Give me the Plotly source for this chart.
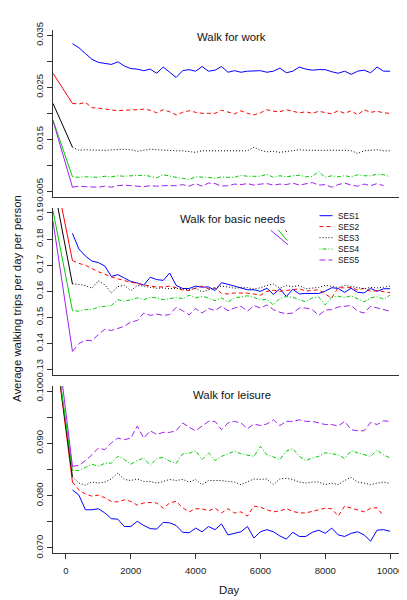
import plotly.graph_objects as go

# ---------------- data ----------------
days = list(range(200, 10001, 200))   # sampling days (50 points)
start_day = -400                      # start of the initial segment

series = ["SES1", "SES2", "SES3", "SES4", "SES5"]
colors = ["#0000ff", "#ff0000", "#000000", "#00cc00", "#a020f0"]
dashes = ["solid", "4px,3px", "1px,2px", "1px,2px,4px,2px", "6px,3px"]

work_ses1 = [0.0334, 0.0326, 0.0315, 0.0304, 0.0298, 0.0296, 0.0294, 0.0299, 0.0291, 0.0286,
             0.0285, 0.0282, 0.0285, 0.0277, 0.0289, 0.0279, 0.0269, 0.0282, 0.0284, 0.0281,
             0.0290, 0.0281, 0.0283, 0.0290, 0.0279, 0.0282, 0.0279, 0.0281, 0.0282, 0.0282,
             0.0279, 0.0281, 0.0287, 0.0278, 0.0281, 0.0289, 0.0285, 0.0283, 0.0284, 0.0284,
             0.0280, 0.0277, 0.0281, 0.0275, 0.0281, 0.0283, 0.0278, 0.0289, 0.0281, 0.0281]
work_ses2 = [0.0219, 0.0218, 0.0221, 0.0211, 0.0210, 0.0208, 0.0206, 0.0205, 0.0206, 0.0206,
             0.0207, 0.0208, 0.0206, 0.0201, 0.0207, 0.0203, 0.0197, 0.0202, 0.0205, 0.0202,
             0.0200, 0.0200, 0.0200, 0.0206, 0.0203, 0.0199, 0.0205, 0.0200, 0.0197, 0.0201,
             0.0207, 0.0204, 0.0203, 0.0207, 0.0204, 0.0201, 0.0203, 0.0200, 0.0204, 0.0202,
             0.0199, 0.0205, 0.0200, 0.0205, 0.0197, 0.0207, 0.0202, 0.0204, 0.0201, 0.0200]
work_ses3 = [0.0135, 0.0129, 0.0130, 0.0129, 0.0129, 0.0129, 0.0130, 0.0131, 0.0131, 0.0130,
             0.0127, 0.0129, 0.0131, 0.0130, 0.0129, 0.0128, 0.0128, 0.0128, 0.0127, 0.0125,
             0.0128, 0.0128, 0.0128, 0.0128, 0.0127, 0.0128, 0.0127, 0.0128, 0.0135, 0.0129,
             0.0126, 0.0127, 0.0125, 0.0127, 0.0128, 0.0130, 0.0129, 0.0129, 0.0129, 0.0130,
             0.0129, 0.0129, 0.0129, 0.0128, 0.0123, 0.0128, 0.0129, 0.0130, 0.0128, 0.0128]
work_ses4 = [0.0078, 0.0077, 0.0078, 0.0078, 0.0077, 0.0079, 0.0078, 0.0080, 0.0079, 0.0080,
             0.0080, 0.0081, 0.0079, 0.0076, 0.0082, 0.0079, 0.0077, 0.0075, 0.0073, 0.0078,
             0.0078, 0.0077, 0.0075, 0.0078, 0.0077, 0.0077, 0.0081, 0.0079, 0.0079, 0.0079,
             0.0083, 0.0077, 0.0080, 0.0078, 0.0080, 0.0081, 0.0078, 0.0079, 0.0088, 0.0077,
             0.0080, 0.0078, 0.0080, 0.0078, 0.0082, 0.0080, 0.0080, 0.0083, 0.0082, 0.0078]
work_ses5 = [0.0058, 0.0060, 0.0059, 0.0059, 0.0058, 0.0060, 0.0058, 0.0061, 0.0062, 0.0061,
             0.0060, 0.0059, 0.0061, 0.0060, 0.0061, 0.0061, 0.0061, 0.0063, 0.0060, 0.0065,
             0.0060, 0.0066, 0.0065, 0.0060, 0.0061, 0.0064, 0.0063, 0.0065, 0.0062, 0.0064,
             0.0065, 0.0062, 0.0064, 0.0063, 0.0066, 0.0062, 0.0064, 0.0067, 0.0062, 0.0063,
             0.0058, 0.0063, 0.0066, 0.0062, 0.0060, 0.0064, 0.0061, 0.0065, 0.0061, None]
work_start = [None, 0.0277, 0.0219, 0.0187, 0.0186]

basic_ses1 = [0.1822, 0.1762, 0.1735, 0.1716, 0.1710, 0.1697, 0.1657, 0.1664, 0.1651, 0.1638,
              0.1632, 0.1624, 0.1654, 0.1645, 0.1642, 0.1670, 0.1623, 0.1611, 0.1611, 0.1620,
              0.1616, 0.1617, 0.1603, 0.1633, 0.1627, 0.1620, 0.1612, 0.1606, 0.1606, 0.1600,
              0.1612, 0.1588, 0.1610, 0.1580, 0.1608, 0.1590, 0.1592, 0.1592, 0.1592, 0.1601,
              0.1614, 0.1611, 0.1596, 0.1612, 0.1596, 0.1594, 0.1611, 0.1600, 0.1610, 0.1610]
basic_ses2 = [0.1718, 0.1707, 0.1700, 0.1686, 0.1675, 0.1666, 0.1655, 0.1648, 0.1640, 0.1635,
              0.1630, 0.1624, 0.1620, 0.1617, 0.1617, 0.1620, 0.1614, 0.1605, 0.1603, 0.1612,
              0.1620, 0.1610, 0.1613, 0.1592, 0.1590, 0.1594, 0.1594, 0.1593, 0.1590, 0.1585,
              0.1600, 0.1604, 0.1600, 0.1603, 0.1606, 0.1610, 0.1601, 0.1603, 0.1606, 0.1590,
              0.1574, 0.1615, 0.1613, 0.1615, 0.1605, 0.1612, 0.1600, 0.1603, 0.1598, 0.1595]
basic_ses3 = [0.1628, 0.1627, 0.1622, 0.1612, 0.1640, 0.1625, 0.1594, 0.1618, 0.1623, 0.1603,
              0.1622, 0.1621, 0.1615, 0.1612, 0.1613, 0.1610, 0.1612, 0.1610, 0.1606, 0.1612,
              0.1598, 0.1606, 0.1614, 0.1620, 0.1617, 0.1612, 0.1614, 0.1614, 0.1609, 0.1614,
              0.1623, 0.1628, 0.1612, 0.1622, 0.1618, 0.1622, 0.1610, 0.1613, 0.1615, 0.1623,
              0.1618, 0.1615, 0.1623, 0.1618, 0.1614, 0.1610, 0.1615, 0.1613, 0.1616, 0.1620]
basic_ses4 = [0.1526, 0.1524, 0.1530, 0.1530, 0.1540, 0.1543, 0.1546, 0.1568, 0.1562, 0.1568,
              0.1575, 0.1568, 0.1577, 0.1575, 0.1568, 0.1572, 0.1577, 0.1572, 0.1585, 0.1575,
              0.1581, 0.1575, 0.1564, 0.1575, 0.1559, 0.1575, 0.1580, 0.1583, 0.1577, 0.1566,
              0.1570, 0.1548, 0.1573, 0.1580, 0.1577, 0.1568, 0.1560, 0.1575, 0.1578, 0.1548,
              0.1578, 0.1581, 0.1576, 0.1583, 0.1572, 0.1560, 0.1575, 0.1580, 0.1570, 0.1585]
basic_ses5 = [0.1370, 0.1400, 0.1413, 0.1411, 0.1435, 0.1455, 0.1450, 0.1458, 0.1466, 0.1483,
              0.1488, 0.1517, 0.1508, 0.1513, 0.1508, 0.1511, 0.1539, 0.1526, 0.1510, 0.1534,
              0.1517, 0.1535, 0.1526, 0.1543, 0.1526, 0.1536, 0.1543, 0.1524, 0.1545, 0.1536,
              0.1548, 0.1530, 0.1520, 0.1514, 0.1517, 0.1536, 0.1536, 0.1530, 0.1508, 0.1528,
              0.1530, 0.1540, 0.1543, 0.1546, 0.1524, 0.1517, 0.1543, 0.1536, 0.1530, 0.1524]
basic_start = [None, 0.209, 0.202, 0.1909, 0.1869]

leisure_ses1 = [0.0811, 0.0801, 0.0773, 0.0773, 0.0775, 0.0767, 0.0756, 0.0755, 0.0741, 0.0741,
                0.0751, 0.0743, 0.0737, 0.0736, 0.0749, 0.0748, 0.0743, 0.0730, 0.0729, 0.0738,
                0.0731, 0.0741, 0.0735, 0.0746, 0.0725, 0.0728, 0.0731, 0.0741, 0.0719, 0.0731,
                0.0735, 0.0731, 0.0723, 0.0717, 0.0730, 0.0722, 0.0722, 0.0730, 0.0734, 0.0728,
                0.0738, 0.0725, 0.0722, 0.0728, 0.0731, 0.0725, 0.0713, 0.0734, 0.0735, 0.0732]
leisure_ses2 = [0.0826, 0.0811, 0.0803, 0.0799, 0.0801, 0.0796, 0.0789, 0.0788, 0.0792, 0.0789,
                0.0782, 0.0786, 0.0787, 0.0786, 0.0776, 0.0786, 0.0789, 0.0777, 0.0769, 0.0775,
                0.0775, 0.0771, 0.0776, 0.0767, 0.0775, 0.0767, 0.0769, 0.0761, 0.0780, 0.0778,
                0.0773, 0.0769, 0.0771, 0.0775, 0.0770, 0.0767, 0.0767, 0.0770, 0.0773, 0.0776,
                0.0775, 0.0761, 0.0780, 0.0776, 0.0773, 0.0769, 0.0776, 0.0777, 0.0761, None]
leisure_ses3 = [0.0836, 0.0824, 0.0820, 0.0826, 0.0824, 0.0826, 0.0832, 0.0843, 0.0831, 0.0829,
                0.0832, 0.0827, 0.0827, 0.0824, 0.0827, 0.0831, 0.0829, 0.0831, 0.0826, 0.0831,
                0.0821, 0.0829, 0.0829, 0.0829, 0.0827, 0.0826, 0.0821, 0.0826, 0.0832, 0.0831,
                0.0832, 0.0821, 0.0832, 0.0833, 0.0831, 0.0826, 0.0824, 0.0826, 0.0826, 0.0821,
                0.0824, 0.0821, 0.0829, 0.0835, 0.0826, 0.0824, 0.0821, 0.0824, 0.0826, 0.0823]
leisure_ses4 = [0.0848, 0.0848, 0.0854, 0.0860, 0.0856, 0.0862, 0.0862, 0.0875, 0.0869, 0.0860,
                0.0867, 0.0872, 0.0858, 0.0871, 0.0873, 0.0866, 0.0862, 0.0880, 0.0881, 0.0886,
                0.0869, 0.0882, 0.0867, 0.0875, 0.0880, 0.0885, 0.0880, 0.0878, 0.0875, 0.0894,
                0.0878, 0.0874, 0.0869, 0.0885, 0.0890, 0.0875, 0.0867, 0.0872, 0.0875, 0.0882,
                0.0880, 0.0878, 0.0871, 0.0886, 0.0882, 0.0878, 0.0875, 0.0887, 0.0878, 0.0872]
leisure_ses5 = [0.0856, 0.0858, 0.0867, 0.0878, 0.0891, 0.0888, 0.0901, 0.0910, 0.0907, 0.0910,
                0.0933, 0.0910, 0.0924, 0.0917, 0.0921, 0.0921, 0.0924, 0.0939, 0.0931, 0.0924,
                0.0933, 0.0942, 0.0942, 0.0926, 0.0939, 0.0942, 0.0939, 0.0928, 0.0937, 0.0934,
                0.0937, 0.0945, 0.0934, 0.0942, 0.0942, 0.0945, 0.0942, 0.0942, 0.0939, 0.0936,
                0.0936, 0.0933, 0.0942, 0.0926, 0.0924, 0.0924, 0.0940, 0.0936, 0.0943, 0.0942]
leisure_start = [None, 0.112, 0.112, 0.112, 0.1162]

panel_titles = ["Walk for work", "Walk for basic needs", "Walk for leisure"]

work_ticks = [0.005, 0.010, 0.015, 0.020, 0.025, 0.030, 0.035]
work_ticktext = ["0.005", "", "0.015", "", "0.025", "", "0.035"]
basic_ticks = [0.13, 0.14, 0.15, 0.16, 0.17, 0.18, 0.19]
basic_ticktext = ["0.13", "0.14", "0.15", "0.16", "0.17", "0.18", "0.19"]
leisure_ticks = [0.070, 0.075, 0.080, 0.085, 0.090, 0.095, 0.100]
leisure_ticktext = ["0.070", "", "0.080", "", "0.090", "", "0.100"]
x_ticks = [0, 2000, 4000, 6000, 8000, 10000]
x_ticktext = ["0", "2000", "4000", "6000", "8000", "10000"]

y_label = "Average walking trips per day per person"
x_label = "Day"

# ---------------- figure ----------------
W, H = 407, 600
ML, MR, MT, MB = 45, 12, 22, 55
PW, PH = W - ML - MR, H - MT - MB


def px(xp):
    return (xp - ML) / PW


def py(yp):
    return (H - MB - yp) / PH


FONT = "Liberation Sans, Arial, sans-serif"

panels = [
    dict(data=[work_ses1, work_ses2, work_ses3, work_ses4, work_ses5], start=work_start,
         yr=[0.00392, 0.03602], ticks=work_ticks, text=work_ticktext, top=22, bot=189),
    dict(data=[basic_ses1, basic_ses2, basic_ses3, basic_ses4, basic_ses5], start=basic_start,
         yr=[0.12809, 0.19191], ticks=basic_ticks, text=basic_ticktext, top=200, bot=366.7),
    dict(data=[leisure_ses1, leisure_ses2, leisure_ses3, leisure_ses4, leisure_ses5], start=leisure_start,
         yr=[0.06904, 0.10096], ticks=leisure_ticks, text=leisure_ticktext, top=378, bot=545),
]

fig = go.Figure()
layout = dict(width=W, height=H, autosize=False,
              margin=dict(l=ML, r=MR, t=MT, b=MB, pad=0),
              paper_bgcolor="white", plot_bgcolor="white", showlegend=False,
              font=dict(family=FONT, color="#222"))

for p, pan in enumerate(panels):
    suffix = "" if p == 0 else str(p + 1)
    xa, ya = "x" + suffix, "y" + suffix
    for s in range(5):
        st = pan["start"][s]
        if st is not None:
            fig.add_trace(go.Scatter(x=[start_day, days[0]], y=[st, pan["data"][s][0]],
                                     mode="lines", xaxis=xa, yaxis=ya,
                                     line=dict(color=colors[s], width=1), hoverinfo="skip"))
    for s in range(5):
        fig.add_trace(go.Scatter(x=days, y=pan["data"][s], mode="lines", name=series[s],
                                 xaxis=xa, yaxis=ya,
                                 line=dict(color=colors[s], width=1, dash=dashes[s])))
    last = p == 2
    layout["xaxis" + suffix] = dict(
        domain=[0, 1], anchor=ya, range=[-400, 10400], showline=True, linecolor="#333",
        linewidth=1, showgrid=False, zeroline=False,
        ticks="outside" if last else "", ticklen=5, tickcolor="#333",
        tickvals=x_ticks if last else [], ticktext=x_ticktext if last else [],
        showticklabels=last,
        tickfont=dict(size=9.5, family=FONT, color="#222"), ticklabelstandoff=4)
    layout["yaxis" + suffix] = dict(
        domain=[py(pan["bot"]), py(pan["top"])], anchor=xa, range=pan["yr"],
        showline=True, linecolor="#333", linewidth=1, showgrid=False, zeroline=False,
        ticks="outside", ticklen=5, tickcolor="#333", tickvals=pan["ticks"],
        ticktext=pan["text"], tickangle=-90,
        tickfont=dict(size=9.5, family=FONT, color="#222"))

annotations = []
title_pos = [(223, 29), (224.7, 210.7), (224, 387.3)]
for t, (tx, ty) in zip(panel_titles, title_pos):
    annotations.append(dict(text=t, x=px(tx), y=py(ty), xref="paper", yref="paper",
                            xanchor="center", yanchor="middle", showarrow=False,
                            font=dict(size=11.4, family=FONT, color="#111")))
annotations.append(dict(text=x_label, x=px(222), y=py(582), xref="paper", yref="paper",
                        xanchor="center", yanchor="middle", showarrow=False,
                        font=dict(size=11.4, family=FONT, color="#111")))
annotations.append(dict(text=y_label, x=px(9), y=py(291), xref="paper", yref="paper",
                        xanchor="center", yanchor="middle", showarrow=False, textangle=-90,
                        font=dict(size=11.4, family=FONT, color="#111")))

# manual legend (inside the basic-needs panel)
shapes = []
leg_y = [207.7, 218.6, 229.7, 241, 252]
for s in range(5):
    shapes.append(dict(type="line", xref="paper", yref="paper",
                       x0=px(311.5), x1=px(324.5), y0=py(leg_y[s]), y1=py(leg_y[s]),
                       line=dict(color=colors[s], width=1, dash=dashes[s])))
    annotations.append(dict(text=series[s], x=px(328), y=py(leg_y[s]), xref="paper", yref="paper",
                            xanchor="left", yanchor="middle", showarrow=False,
                            font=dict(size=8.3, family=FONT, color="#111")))

# small stray strokes visible near the legend in the original
for (x0, y0, x1, y1, c) in [(262.7, 222.3, 280, 236.7, colors[4]),
                            (270, 221.7, 279.3, 232.7, colors[3]),
                            (277.6, 222.6, 278.8, 223.8, colors[2])]:
    shapes.append(dict(type="line", xref="paper", yref="paper",
                       x0=px(x0), y0=py(y0), x1=px(x1), y1=py(y1),
                       line=dict(color=c, width=1)))

layout["annotations"] = annotations
layout["shapes"] = shapes
fig.update_layout(**layout)
fig.write_html("out.html")
